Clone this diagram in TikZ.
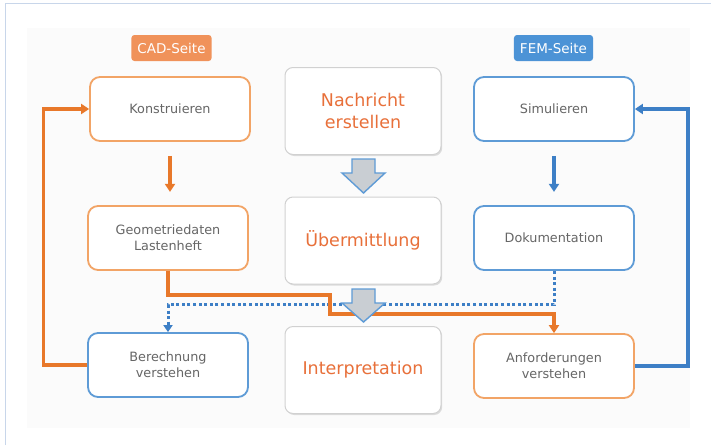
\documentclass[tikz,border=0pt]{standalone}
\usepackage{fontspec}
\setmainfont{DejaVu Sans}
\usetikzlibrary{arrows.meta,shadows}
\definecolor{oline}{HTML}{E8782A}
\definecolor{oborder}{HTML}{F2A466}
\definecolor{ofill}{HTML}{F0925A}
\definecolor{bline}{HTML}{3D7FC6}
\definecolor{bborder}{HTML}{5E9BD6}
\definecolor{bfill}{HTML}{4C93D6}
\definecolor{txtgray}{HTML}{666666}
\definecolor{ctxt}{HTML}{E8703A}
\definecolor{grayarrow}{HTML}{C9CED3}
\definecolor{frame}{HTML}{C8D6EA}
\tikzset{
  sidebox/.style={draw, line width=1.8pt, rounded corners=10pt, fill=white,
    minimum width=160pt, minimum height=64pt, align=center, text=txtgray,
    font=\fontsize{12.8}{16}\selectfont},
  obox/.style={sidebox, draw=oborder},
  bbox/.style={sidebox, draw=bborder},
  cbox/.style={draw=black!18, line width=1pt, rounded corners=8pt, fill=white,
    minimum width=156pt, minimum height=87pt, align=center, text=ctxt,
    font=\fontsize{17.5}{22}\selectfont,
    drop shadow={opacity=0.25, shadow xshift=1.2pt, shadow yshift=-1.5pt}},
  tag/.style={rounded corners=3pt, text=white, minimum height=26pt,
    font=\fontsize{13.5}{15}\selectfont, inner xsep=6pt},
  oarrow/.style={draw=oline, line width=3.2pt, -{Triangle[length=8pt,width=10pt]}},
  barrow/.style={draw=bline, line width=3.2pt, -{Triangle[length=8pt,width=10pt]}},
  bdot/.style={draw=bline, line width=3pt, dash pattern=on 3pt off 2.6pt,
    -{Triangle[length=7pt,width=9pt]}},
  blockarrow/.style={fill=grayarrow, draw=bborder, line width=1.4pt, line join=miter},
}
\begin{document}
\begin{tikzpicture}[x=1pt,y=-1pt]
\useasboundingbox (0,0) rectangle (711,445);
\fill[white] (0,0) rectangle (711,445);
\draw[frame, line width=1pt] (5,445) -- (5,3) -- (711,3);
\fill[black!1.5] (27,28) rectangle (690,428);

% tags
\node[tag, fill=ofill] (cadtag) at (171.5,48) {CAD-Seite};
\node[tag, fill=bfill] (femtag) at (553.5,48) {FEM-Seite};

% side boxes
\node[obox] (kon) at (170,109) {Konstruieren};
\node[obox] (geo) at (168,238) {Geometriedaten\\Lastenheft};
\node[bbox] (ber) at (168,365) {Berechnung\\verstehen};
\node[bbox] (sim) at (554,109) {Simulieren};
\node[bbox] (dok) at (554,238) {Dokumentation};
\node[obox] (anf) at (554,366) {Anforderungen\\verstehen};

% center boxes
\node[cbox] (nach) at (363,111) {Nachricht\\erstellen};
\node[cbox] (ueb) at (363,240.5) {Übermittlung};
\node[cbox] (int) at (363,370) {Interpretation};

% connectors
\draw[oarrow] (kon.south) ++(0,14) coordinate (k1) -- ++(0,36);
\draw[barrow] (sim.south) ++(0,14) coordinate (s1) -- ++(0,36);
\draw[oarrow] (ber.west) -- ++(-44,0) |- (kon.west);
\draw[barrow] (anf.east) -- ++(53,0) |- (sim.east);
\draw[bdot] (dok.south) -- ++(0,34) -| (ber.north);
\draw[oarrow] (geo.south) |- (330,295) -- (330,314) -| (anf.north);

% block arrows
\draw[blockarrow] (352,159) -- (375,159) -- (375,173) -- (385,173) -- (363.5,193)
  -- (342,173) -- (352,173) -- cycle;
\draw[blockarrow] (352,289) -- (375,289) -- (375,303) -- (385,303) -- (363.5,322)
  -- (342,303) -- (352,303) -- cycle;
\end{tikzpicture}
\end{document}
